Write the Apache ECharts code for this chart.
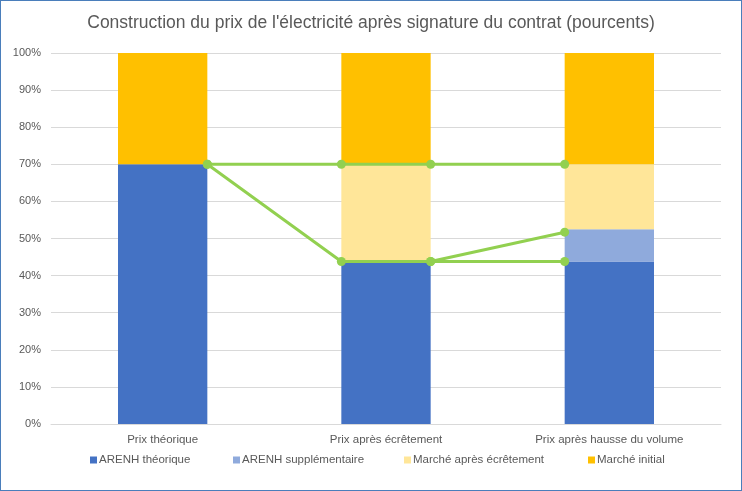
<!DOCTYPE html>
<html><head><meta charset="utf-8">
<script src="https://cdn.jsdelivr.net/npm/echarts@6/dist/echarts.min.js"></script>
<style>html,body{margin:0;padding:0;background:#fff}#c{width:742px;height:491px;box-sizing:border-box;border:1px solid #4a7ebb}</style>
</head><body><div id="c"></div>
<script>
const categories = ['Prix théorique', 'Prix après écrêtement', 'Prix après hausse du volume'];
const arenhTheorique = [70, 43.8, 43.8];
const arenhSupp = [null, null, 8.7];
const marcheEcretement = [null, 26.2, 17.5];
const marcheInitial = [30, 30, 30];
const yTicks = [0, 10, 20, 30, 40, 50, 60, 70, 80, 90, 100];
// connector lines: [x position in category units, value]
const lineA = [[0.7, 70], [1.3, 70], [1.7, 70], [2.3, 70]];
const lineB = [[0.7, 70], [1.3, 43.8], [1.7, 43.8], [2.3, 43.8]];
const lineC = [[1.7, 43.8], [2.3, 51.7]];

const chart = echarts.init(document.getElementById('c'));
const font = '"Liberation Sans", sans-serif';
const lineStyle = {color: '#92D050', width: 3};
const mkLine = d => ({type: 'line', xAxisIndex: 1, yAxisIndex: 0, data: d, symbol: 'circle', symbolSize: 9,
  itemStyle: {color: '#92D050'}, lineStyle: lineStyle, z: 10, silent: true, legendHoverLink: false});
const names = ['ARENH théorique', 'ARENH supplémentaire', 'Marché après écrêtement', 'Marché initial'];
const legendLeft = [84, 227, 398, 582];
chart.setOption({
  animation: false,
  title: {text: "Construction du prix de l'électricité après signature du contrat (pourcents)", left: 'center', top: 8,
    textStyle: {fontFamily: font, fontSize: 17.5, fontWeight: 'normal', color: '#595959'}},
  legend: names.map((n, i) => ({data: [n], left: legendLeft[i], top: 448, itemWidth: 7, itemHeight: 7, itemGap: 0,
    icon: 'rect', textStyle: {fontFamily: font, fontSize: 11.5, color: '#595959', padding: [0, 0, 0, -3]}})),
  grid: {left: 50, right: 20, top: 52, bottom: 66},
  xAxis: [
    {type: 'category', data: categories, axisTick: {show: false}, axisLine: {lineStyle: {color: '#d9d9d9'}},
     axisLabel: {fontFamily: font, fontSize: 11.5, color: '#595959', margin: 10}},
    {type: 'value', min: 0, max: 3, show: false}
  ],
  yAxis: {type: 'value', min: 0, max: 100, interval: 10,
    axisLabel: {formatter: v => yTicks.includes(v) ? v + '%' : '', fontFamily: font, fontSize: 11, color: '#595959', margin: 10},
    axisTick: {show: false},
    splitLine: {lineStyle: {color: '#d9d9d9'}}, axisLine: {show: false}},
  series: [
    {name: names[0], type: 'bar', stack: 's', data: arenhTheorique, barWidth: '40%', itemStyle: {color: '#4472C4'}},
    {name: names[1], type: 'bar', stack: 's', data: arenhSupp, itemStyle: {color: '#8FAADC'}},
    {name: names[2], type: 'bar', stack: 's', data: marcheEcretement, itemStyle: {color: '#FFE699'}},
    {name: names[3], type: 'bar', stack: 's', data: marcheInitial, itemStyle: {color: '#FFC000'}},
    mkLine(lineA), mkLine(lineB), mkLine(lineC)
  ]
});
</script></body></html>
